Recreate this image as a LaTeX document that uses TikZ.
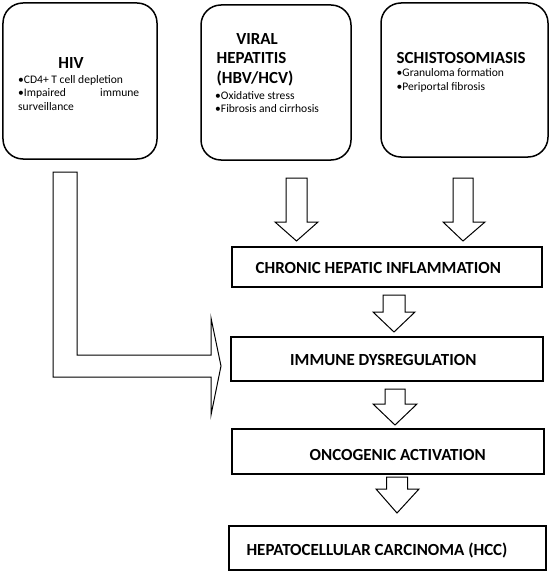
\documentclass[tikz,border=0pt]{standalone}
\usepackage{fontspec}
\setmainfont{Carlito}
\begin{document}
\begin{tikzpicture}[x=1bp,y=-1bp,
  rbox/.style={draw,line width=1.5bp,rounded corners=20bp,inner sep=0pt},
  sbox/.style={draw,line width=1.3bp,inner sep=0pt},
  blockarrow/.style={draw,line width=1bp,fill=white,line join=miter},
  title/.style={font=\fontsize{17}{20}\selectfont\bfseries,inner sep=0pt},
  bullet/.style={font=\fontsize{11.6}{14}\selectfont,inner sep=0pt,anchor=base west},
  label/.style={font=\fontsize{17}{20}\selectfont\bfseries,inner sep=0pt,anchor=base}]
\useasboundingbox (0,0) rectangle (550,574);
% top rounded boxes
\node[rbox,minimum width=154bp,minimum height=156bp] (hiv) at (80,81) {};
\node[rbox,minimum width=150bp,minimum height=155bp] (viral) at (276,82.5) {};
\node[rbox,minimum width=167bp,minimum height=154bp] (schisto) at (464.5,80) {};
% HIV text
\node[title,anchor=base] (hivt) at (71,68.5) {HIV};
\node[bullet] (hivb1) at (18,83.5) {•CD4+ T cell depletion};
\node[bullet] (hivb2) at (18,97) {\makebox[121bp][s]{•Impaired immune}};
\node[bullet] (hivb3) at (18,110.5) {surveillance};
% Viral text
\node[title,anchor=base] (vt1) at (257,45) {VIRAL};
\node[title,anchor=base west] (vt2) at (216.5,64) {HEPATITIS};
\node[title,anchor=base west] (vt3) at (216.5,83.5) {(HBV/HCV)};
\node[bullet] (vb1) at (215,100) {•Oxidative stress};
\node[bullet] (vb2) at (215,112.7) {•Fibrosis and cirrhosis};
% Schisto text
\node[title,anchor=base west] (st) at (396.5,63.5) {SCHISTOSOMIASIS};
\node[bullet] (sb1) at (396.5,76.5) {•Granuloma formation};
\node[bullet] (sb2) at (396.5,91) {•Periportal fibrosis};
% pathway boxes
\node[sbox,minimum width=310bp,minimum height=40bp] (chronic) at (387,267) {};
\node[sbox,minimum width=312bp,minimum height=44bp] (immune) at (387,359) {};
\node[sbox,minimum width=312bp,minimum height=45bp] (onco) at (388,451.5) {};
\node[sbox,minimum width=317bp,minimum height=44bp] (hcc) at (387.5,548) {};
\node[label] (chronict) at (378.3,273.3) {CHRONIC HEPATIC INFLAMMATION};
\node[label] (immunet) at (383.3,365) {IMMUNE DYSREGULATION};
\node[label] (oncot) at (397.7,460.7) {ONCOGENIC ACTIVATION};
\node[label] (hcct) at (377,555.7) {HEPATOCELLULAR CARCINOMA (HCC)};
% block arrows
\draw[blockarrow] (286,178) -- (307,178) -- (307,222) -- (318,222) -- (296.5,241) -- (275,222) -- (286,222) -- cycle;
\draw[blockarrow] (453,178) -- (473,178) -- (473,222) -- (485,222) -- (463,241) -- (443,222) -- (453,222) -- cycle;
\draw[blockarrow] (383,295) -- (405,295) -- (405,312) -- (415,312) -- (394,332) -- (373,312) -- (383,312) -- cycle;
\draw[blockarrow] (385,389) -- (405,389) -- (405,404) -- (417,404) -- (395,425) -- (373,404) -- (385,404) -- cycle;
\draw[blockarrow] (386.5,477) -- (407.5,477) -- (407.5,489) -- (419,489) -- (397,513) -- (376,489) -- (386.5,489) -- cycle;
% bent arrow HIV -> immune
\draw[blockarrow] (53,172) -- (77,172) -- (77,355) -- (211,355) -- (211,318) -- (221,366) -- (211,415) -- (211,377) -- (53,377) -- cycle;
\end{tikzpicture}
\end{document}
